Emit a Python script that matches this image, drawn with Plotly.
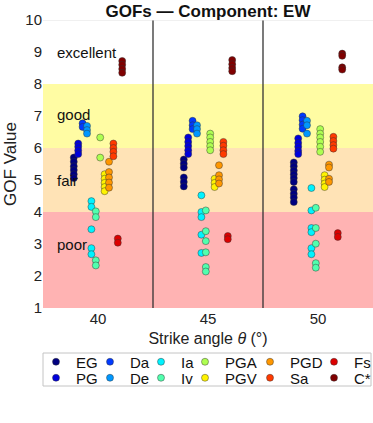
import plotly.graph_objects as go

angles = [40, 45, 50]

metrics = ["EG", "PG", "Da", "De", "Ia", "Iv", "PGA", "PGV", "PGD", "Sa", "Fs", "C*"]
colors = ["#000080", "#0000dc", "#003aff", "#0097ff", "#00f3ff", "#51ffae",
          "#aeff51", "#fff300", "#ff9700", "#ff3a00", "#dc0000", "#800000"]

# GOF values per metric, one list for each strike angle (40, 45, 50)
eg = [[5.70, 5.57, 5.43, 5.31, 5.18, 5.06],
      [5.64, 5.51, 5.39, 5.08, 4.94, 4.80],
      [5.55, 5.43, 5.30, 5.18, 5.06, 4.94, 4.71, 4.57, 4.45, 4.31]]
pg = [[6.14, 6.04, 5.92, 5.81],
      [6.33, 6.19, 6.06, 5.93, 5.81],
      [6.30, 6.16, 6.04, 5.91, 5.81]]
da = [[6.77, 6.66],
      [6.85, 6.71, 6.59],
      [6.99, 6.87, 6.73, 6.60]]
de = [[6.69, 6.56, 6.45],
      [6.71, 6.59, 6.45],
      [6.85, 6.71, 6.45]]
ia = [[4.34, 4.16, 3.46, 2.87, 2.68],
      [4.52, 4.00, 3.84, 3.29, 2.72],
      [4.75, 4.05, 3.50, 3.37, 2.87, 2.68]]
iv = [[4.02, 3.84, 2.49, 2.33],
      [4.05, 3.40, 3.09, 2.74, 2.28, 2.14],
      [4.13, 3.50, 3.01, 2.40, 2.26]]
pga = [[6.33, 5.70],
       [6.45, 6.33, 6.19, 6.06, 5.93],
       [6.59, 6.45, 6.33, 6.19, 6.04, 5.88]]
pgv = [[5.18, 5.04, 4.91, 4.78, 4.65],
       [5.04, 4.91, 4.78],
       [5.15, 5.01, 4.89, 4.78]]
pgd = [[5.57, 5.25, 5.08, 4.92, 4.76],
       [5.46, 5.15, 5.02, 4.89],
       [5.48, 5.39, 5.04, 4.94]]
sa = [[6.14, 6.00, 5.88, 5.74],
      [6.19, 6.07, 5.93, 5.81],
      [6.35, 6.22, 6.09, 5.98]]
fs = [[3.17, 3.04],
      [3.25, 3.15],
      [3.34, 3.22]]
cstar = [[8.72, 8.60, 8.47, 8.35],
         [8.75, 8.62, 8.50, 8.40],
         [8.95, 8.88, 8.52, 8.45]]

values = [eg, pg, da, de, ia, iv, pga, pgv, pgd, sa, fs, cstar]

# quality bands
band_names = ["poor", "fair", "good", "excellent"]
band_lo = [1, 4, 6, 8]
band_hi = [4, 6, 8, 10]
band_colors = ["#ffb3b3", "#ffe3b6", "#fffca3", "rgba(0,0,0,0)"]
band_label_y = [3.0, 5.0, 7.05, 9.0]

# legend slots (MATLAB-like 6 columns x 2 rows, column major), in px
legend_col_px = [56, 110, 161, 205, 270, 334]
legend_row_px = [362, 378]

L, T, W, H = 43, 20, 330, 288
step = 0.2

fig = go.Figure()

for i, name in enumerate(metrics):
    xs, ys = [], []
    for a, vals in zip(angles, values[i]):
        xs += [a + (i - 5.5) * step] * len(vals)
        ys += vals
    leg = "legend" if i == 0 else "legend%d" % (i + 1)
    fig.add_trace(go.Scatter(
        x=xs, y=ys, mode="markers", name=name, legend=leg, showlegend=True,
        marker=dict(size=7, color=colors[i],
                    line=dict(width=0.6, color="rgba(50,50,50,0.75)"))))

legends = {}
for i in range(len(metrics)):
    col, row = i // 2, i % 2
    key = "legend" if i == 0 else "legend%d" % (i + 1)
    legends[key] = dict(
        x=(legend_col_px[col] - 20 - L) / W, xanchor="left",
        y=-(legend_row_px[row] - (T + H)) / H, yanchor="middle",
        bgcolor="rgba(0,0,0,0)", borderwidth=0,
        font=dict(size=15, color="#111"))

shapes = []
for lo, hi, c in zip(band_lo, band_hi, band_colors):
    shapes.append(dict(type="rect", xref="paper", x0=0, x1=1, y0=lo, y1=hi,
                       fillcolor=c, line=dict(width=0), layer="below"))
for a, b in zip(angles[:-1], angles[1:]):
    shapes.append(dict(type="line", x0=(a + b) / 2, x1=(a + b) / 2, y0=1, y1=10,
                       line=dict(color="#333333", width=1.3)))
shapes.append(dict(type="line", xref="paper", x0=0, x1=1, y0=10, y1=10,
                   line=dict(color="#e2e2e2", width=1)))
# legend frame
shapes.append(dict(type="rect", xref="paper", yref="paper",
                   x0=0, x1=(371 - L) / W,
                   y0=-(386 - (T + H)) / H, y1=-(353 - (T + H)) / H,
                   fillcolor="white", line=dict(color="#c4c4c4", width=1), layer="below"))

annotations = []
for name, y in zip(band_names, band_label_y):
    annotations.append(dict(x=38.05, y=y, text=name, showarrow=False,
                            xanchor="left", yanchor="middle",
                            font=dict(size=15, color="#111")))

fig.update_layout(
    width=373, height=423,
    margin=dict(l=L, r=0, t=T, b=423 - T - H, autoexpand=False),
    showlegend=True,
    paper_bgcolor="white", plot_bgcolor="white",
    font=dict(family="Liberation Sans, Arial, sans-serif", color="#222"),
    title=dict(text="<b>GOFs — Component: EW</b>", x=0.5, xref="paper",
               y=1 - 11 / 423, yanchor="middle", font=dict(size=17, color="#111")),
    xaxis=dict(range=[37.5, 52.5], tickvals=angles, showgrid=False, zeroline=False,
               tickfont=dict(size=15),
               title=dict(text="Strike angle <i>θ</i> (°)", font=dict(size=16), standoff=6)),
    yaxis=dict(range=[1, 10], tickvals=list(range(1, 11)), showgrid=False, zeroline=False,
               tickfont=dict(size=15),
               title=dict(text="GOF Value", font=dict(size=17), standoff=4)),
    shapes=shapes, annotations=annotations,
    **legends,
)

# drop the default 8px body margin so the figure sits at the page corner
fig.write_html("out.html", config={"displayModeBar": False},
               post_script="document.body.style.margin = '0';")
